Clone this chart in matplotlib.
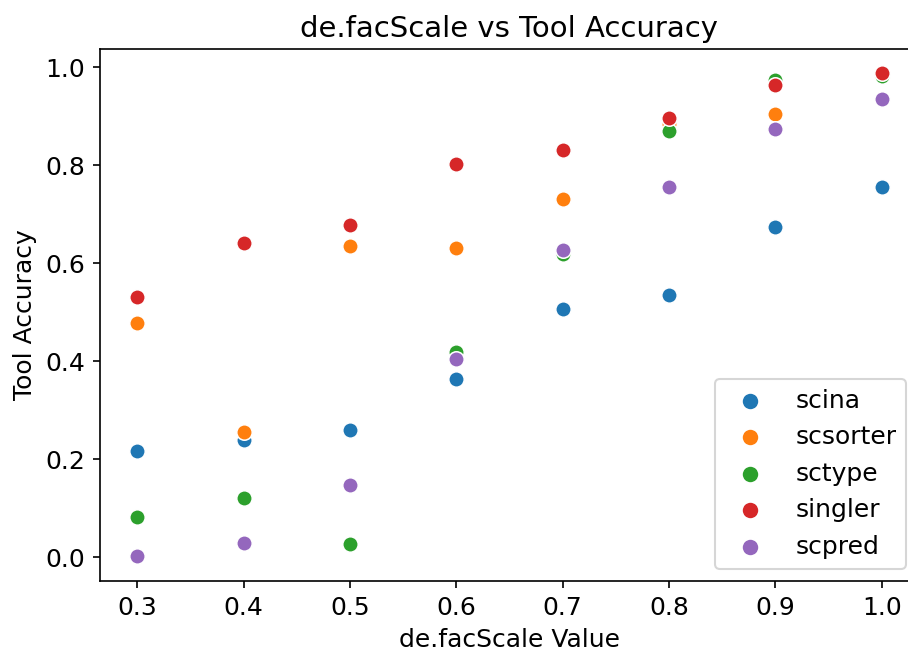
import numpy as np
import matplotlib
matplotlib.use("Agg")
import matplotlib.pyplot as plt

scale = [0.3, 0.4, 0.5, 0.6, 0.7, 0.8, 0.9, 1.0]

tools = ["scina", "scsorter", "sctype", "singler", "scpred"]
scina = [0.216, 0.239, 0.259, 0.363, 0.506, 0.535, 0.673, 0.755]
scsorter = [0.478, 0.255, 0.635, 0.631, 0.731, 0.884, 0.904, 0.985]
sctype = [0.082, 0.120, 0.027, 0.418, 0.618, 0.869, 0.973, 0.982]
singler = [0.531, 0.641, 0.678, 0.802, 0.831, 0.896, 0.963, 0.988]
scpred = [0.002, 0.029, 0.147, 0.404, 0.627, 0.755, 0.873, 0.935]

series = [scina, scsorter, sctype, singler, scpred]
colors = ["C0", "C1", "C2", "C3", "C4"]

fig = plt.figure(figsize=(6.06, 4.34), dpi=150)
ax = fig.add_axes([0.110, 0.1075, 0.901, 0.817])

for name, vals, c in zip(tools, series, colors):
    ax.scatter(scale, vals, s=55, color=c, edgecolor="white", linewidth=0.75, label=name)

ax.set_xlim(0.265, 1.035)
ax.set_ylim(-0.049, 1.037)
ax.set_xticks([0.3, 0.4, 0.5, 0.6, 0.7, 0.8, 0.9, 1.0])

ax.set_xlabel("de.facScale Value", fontsize=12)
ax.set_ylabel("Tool Accuracy", fontsize=12)
ax.set_title("de.facScale vs Tool Accuracy", fontsize=14)
ax.tick_params(labelsize=12)

ax.legend(loc="lower right", fontsize=12, markerscale=1.1)

fig.savefig("out.png", dpi=150)
